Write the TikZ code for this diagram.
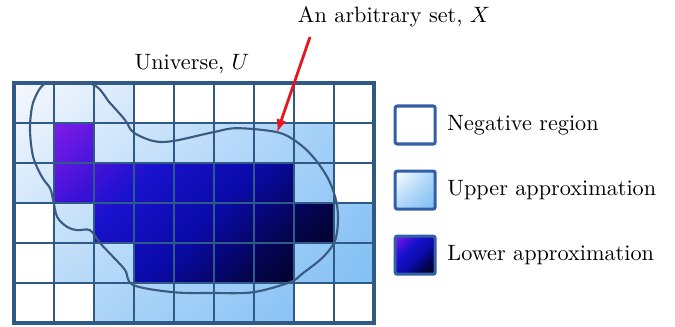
\documentclass[tikz,border=0pt]{standalone}
\usepackage{tikz}
\usetikzlibrary{arrows.meta,positioning,shadings}
\usepackage{xcolor}
\definecolor{gridblue}{RGB}{47,90,136}
\definecolor{setslate}{RGB}{58,90,130}
\definecolor{arrowred}{RGB}{232,22,30}
\definecolor{legblue}{RGB}{50,95,165}
\definecolor{upUL}{RGB}{246,248,254}
\definecolor{upUR}{RGB}{160,206,247}
\definecolor{upLL}{RGB}{184,218,248}
\definecolor{upLR}{RGB}{124,189,244}
\definecolor{upMid}{RGB}{170,212,247}
\definecolor{lowA}{RGB}{124,28,232}
\definecolor{lowB}{RGB}{64,18,216}
\definecolor{lowC}{RGB}{24,18,204}
\definecolor{lowD}{RGB}{10,10,168}
\definecolor{lowE}{RGB}{4,4,80}
\definecolor{lowF}{RGB}{0,0,24}
\pgfdeclareverticalshading{lowerfade}{100bp}{color(0bp)=(lowF); color(15bp)=(lowF);
  color(30bp)=(lowE); color(45bp)=(lowD); color(62bp)=(lowC); color(71bp)=(lowB);
  color(85bp)=(lowA); color(100bp)=(lowA)}

\begin{document}
\begin{tikzpicture}[
  txt/.style={scale=1.58},
  gridline/.style={draw=gridblue, line width=1.8pt},
  setline/.style={draw=setslate, line width=1.5pt},
  redarrow/.style={-{Latex[length=3.2mm,width=2.6mm]}, line width=2pt, color=arrowred},
  legbox/.style={draw=legblue, line width=2.2pt, rounded corners=1.5pt,
                 minimum width=1.0cm, minimum height=0.95cm, inner sep=0pt},
  legtext/.style={txt, anchor=west, inner sep=1pt}]
\useasboundingbox (-0.35,2.075) rectangle (16.525,-6.1);
% upper approximation cells
\begin{scope}
  \clip foreach \c/\r in {0/0,1/0,2/0,0/1,2/1,3/1,4/1,5/1,6/1,7/1,0/2,7/2,1/3,8/3,
      1/4,2/4,7/4,8/4,2/5,3/5,4/5,5/5,6/5} {(\c,-\r) rectangle ++(1,-1)};
  \shade[upper left=upUL, upper right=upUR, lower left=upLL, lower right=upLR]
    (0,0) rectangle (9,-6);
\end{scope}
% lower approximation cells
\begin{scope}
  \clip foreach \c/\r in {1/1,1/2,2/2,3/2,4/2,5/2,6/2,2/3,3/3,4/3,5/3,6/3,7/3,
      3/4,4/4,5/4,6/4} {(\c,-\r) rectangle ++(1,-1)};
  \shade[shading=lowerfade, shading angle=45] (1,-1) rectangle (8,-5);
\end{scope}
\draw[gridline] (0,0) grid (9,-6);
\draw[gridline, line width=2.2pt] (0,0) rectangle (9,-6);
% the set X
\draw[setline] plot[smooth cycle, tension=0.55] coordinates {
  (0.9,0) (1.95,-0.03) (2.4,-0.5) (2.78,-0.93) (2.98,-1.23) (3.48,-1.45) (3.98,-1.45)
  (4.98,-1.23) (5.58,-1.13) (6.58,-1.23) (7.08,-1.48) (7.48,-1.85) (7.83,-2.35)
  (8.03,-2.85) (8.1,-3.35) (8.03,-3.93) (7.73,-4.35) (7.23,-4.75) (6.9,-4.98)
  (5.98,-5.23) (4.98,-5.25) (3.98,-5.23) (2.98,-5.05) (2.78,-4.68) (2.48,-4.35)
  (2.15,-4) (1.9,-3.68) (1.58,-3.68) (1.33,-3.6) (1.08,-3.35) (0.98,-2.93)
  (0.9,-2.63) (0.7,-2.35) (0.48,-1.85) (0.4,-1.18) (0.45,-0.6) (0.58,-0.25) (0.73,-0.05)};
\coordinate (xtip) at (6.58,-1.23);
\node[txt] (universe) at (4.45,0.47) {Universe, $U$};
\node[txt] (setname) at (9.5,1.65) {An arbitrary set, $X$};
\coordinate (xtail) at (7.4,1.15);
\draw[redarrow] (xtail) -- (xtip);
% legend
\node[legbox, fill=white] (negbox) at (10.03,-1.05) {};
\node[legbox, below=0.6cm of negbox, upper left=white, upper right=upMid,
      lower left=upMid, lower right=upLR] (upbox) {};
\node[legbox, below=0.6cm of upbox, shade, shading=lowerfade, shading angle=45] (lowbox) {};
\node[legtext, right=0.2cm of negbox] (negtext) {Negative region};
\node[legtext, right=0.2cm of upbox] (uptext) {Upper approximation};
\node[legtext, right=0.2cm of lowbox] (lowtext) {Lower approximation};
\end{tikzpicture}
\end{document}
